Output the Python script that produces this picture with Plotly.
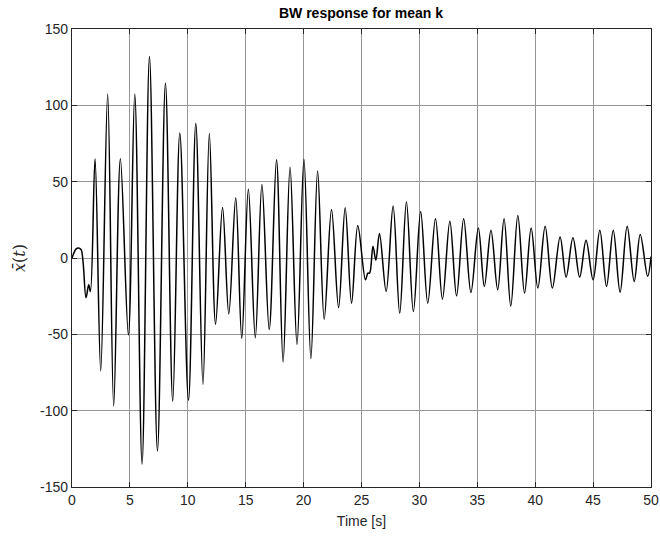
import plotly.graph_objects as go

# Extrema / feature points (time [s], response)
time_s = [0.0, 0.36, 0.58, 0.79, 1.21, 1.44, 1.59, 1.99, 2.48, 3.08, 3.60, 4.18, 4.87,
          5.42, 6.05, 6.69, 7.38, 8.07, 8.70, 9.31, 10.06, 10.69, 11.31, 11.86, 12.40,
          13.00, 13.54, 14.14, 14.66, 15.23, 15.83, 16.40, 17.03, 17.66, 18.23, 18.83,
          19.43, 20.03, 20.63, 21.21, 21.78, 22.41, 23.02, 23.59, 24.14, 24.68, 25.34,
          25.55, 25.70, 25.99, 26.24, 26.55, 27.13, 27.73, 28.30, 28.88, 29.48, 30.11,
          30.72, 31.39, 31.99, 32.63, 33.21, 33.82, 34.45, 35.09, 35.61, 36.18, 36.76,
          37.31, 37.89, 38.50, 39.08, 39.65, 40.23, 40.86, 41.48, 42.15, 42.67, 43.26,
          43.84, 44.39, 45.00, 45.58, 46.16, 46.74, 47.33, 47.94, 48.55, 49.07, 49.71, 50.0]
response = [0.0, 6.0, 6.6, 5.5, -26.0, -17.5, -22.0, 65.0, -74.0, 107.5, -97.0, 65.0, -50.4,
            107.5, -135.0, 132.0, -126.5, 114.7, -93.9, 81.8, -93.2, 88.2, -82.7, 81.6, -43.4,
            33.1, -36.6, 39.5, -52.6, 45.0, -52.2, 48.2, -46.9, 64.3, -68.0, 59.4,
            -56.6, 64.7, -65.8, 57.0, -40.1, 31.8, -32.5, 32.9, -29.6, 21.3, -14.3,
            -9.9, -9.9, 7.7, -1.5, 16.0, -21.9, 34.0, -36.2, 36.6, -35.1, 30.5,
            -29.6, 25.7, -27.0, 24.1, -24.8, 25.7, -22.6, 19.7, -18.6, 18.2, -20.8,
            25.7, -31.4, 27.9, -23.0, 19.7, -19.7, 20.8, -19.7, 13.8, -12.5, 13.2,
            -12.5, 11.6, -14.3, 18.2, -18.6, 18.2, -22.4, 20.8, -15.4, 15.4, -12.0, 1.0]

x_ticks = [0, 5, 10, 15, 20, 25, 30, 35, 40, 45, 50]
y_ticks = [-150, -100, -50, 0, 50, 100, 150]

fig = go.Figure()
fig.add_trace(go.Scatter(
    x=time_s, y=response, mode="lines",
    line=dict(color="black", width=1.5, shape="spline", smoothing=1.0),
    showlegend=False, hoverinfo="skip"))

axis_common = dict(
    showline=True, linecolor="#262626", linewidth=1.3, mirror="ticks",
    ticks="inside", ticklen=5, tickcolor="#262626", tickwidth=1.2,
    showgrid=True, gridcolor="#969696", gridwidth=1.4, zeroline=False,
    ticklabeloverflow="allow", automargin=False,
    tickfont=dict(family="Liberation Sans, Arial, sans-serif", size=14, color="#262626"),
)

fig.update_layout(
    width=660, height=538,
    margin=dict(l=72, r=9, t=29, b=51),
    paper_bgcolor="white", plot_bgcolor="white",
    title=dict(text="<b>BW response for mean k</b>", x=0.547, xanchor="center",
               y=0.975, yanchor="middle",
               font=dict(family="Liberation Sans, Arial, sans-serif", size=14, color="black")),
    xaxis=dict(range=[0, 50], tickvals=x_ticks, ticktext=[str(v) for v in x_ticks],
               title=dict(text="Time [s]", standoff=9,
                          font=dict(family="Liberation Sans, Arial, sans-serif", size=14,
                                    color="#262626")),
               **axis_common),
    yaxis=dict(range=[-150, 150], tickvals=y_ticks, ticktext=[str(v) for v in y_ticks],
               title=dict(text="<i>x̄</i>(<i>t</i>)", standoff=10,
                          font=dict(family="DejaVu Serif, Liberation Serif, serif", size=16,
                                    color="#262626")),
               **axis_common),
)

fig.write_html("out.html")
